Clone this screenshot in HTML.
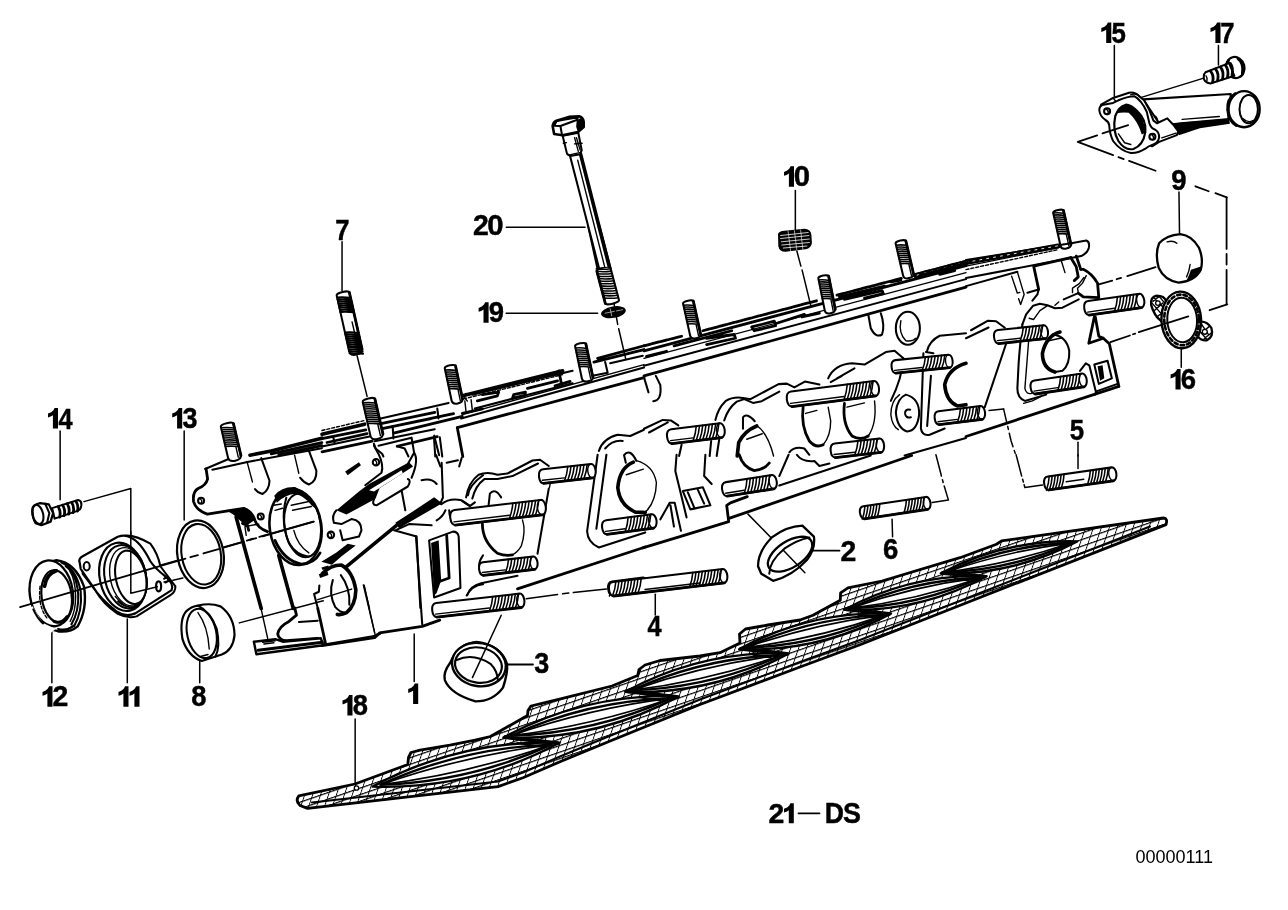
<!DOCTYPE html>
<html><head><meta charset="utf-8"><title>Cylinder head</title>
<style>
html,body{margin:0;padding:0;background:#fff}
svg{display:block;filter:grayscale(1)}
.t{font-family:"Liberation Sans",sans-serif;font-weight:bold;fill:#000;stroke:#000;stroke-width:0.45;opacity:0.999}
.tr{font-family:"Liberation Sans",sans-serif;fill:#000;opacity:0.999}
.f{fill:#000;stroke:none}
.w{fill:#fff;stroke:#000;stroke-width:2.05}
.wb{fill:#fff;stroke:#000;stroke-width:1.3}
.wf{fill:#fff;stroke:none}
.a{fill:none;stroke:#000;stroke-width:2.05}
.b{fill:none;stroke:#000;stroke-width:1.4}
.c{fill:none;stroke:#000;stroke-width:2.8}
.d{fill:none;stroke:#000;stroke-width:3.6}
.th{fill:none;stroke:#000;stroke-width:1.55}
.l{fill:none;stroke:#000;stroke-width:1.5}
.l2{fill:none;stroke:#000;stroke-width:1.8}
path,line,ellipse,circle,polyline,polygon,rect{vector-effect:non-scaling-stroke;stroke-linecap:round;stroke-linejoin:round}
</style></head><body>
<svg width="1288" height="910" viewBox="0 0 1288 910">
<rect x="0" y="0" width="1288" height="910" fill="#fff"/>
<path class="f" d="M58.0,408.0 L58.0,428.5 L52.9,428.5 L52.9,415.2 L50.6,416.6 L48.0,417.4 L48.0,413.6 L51.2,412.2 L53.4,410.2 L54.6,408.0Z"/><text transform="translate(58.62,428.50) scale(0.845,1)" font-size="29.93" class="t">4</text>
<path class="f" d="M182.2,408.0 L182.2,428.5 L177.1,428.5 L177.1,415.2 L174.8,416.6 L172.2,417.4 L172.2,413.6 L175.4,412.2 L177.6,410.2 L178.8,408.0Z"/><text transform="translate(182.53,428.15) scale(0.926,1)" font-size="29.08" class="t">3</text>
<text transform="translate(335.35,239.50) scale(0.857,1)" font-size="29.93" class="t">7</text>
<text transform="translate(473.01,235.45) scale(0.977,1)" font-size="29.08" class="t">2</text><text transform="translate(487.33,235.45) scale(1.010,1)" font-size="29.08" class="t">0</text>
<path class="f" d="M488.6,302.3 L488.6,322.8 L483.5,322.8 L483.5,309.5 L481.2,310.9 L478.6,311.7 L478.6,307.9 L481.8,306.5 L484.0,304.5 L485.2,302.3Z"/><text transform="translate(488.64,322.45) scale(0.946,1)" font-size="29.08" class="t">9</text>
<path class="f" d="M794.0,166.3 L794.0,186.8 L788.9,186.8 L788.9,173.5 L786.6,174.9 L784.0,175.7 L784.0,171.9 L787.2,170.5 L789.4,168.5 L790.6,166.3Z"/><text transform="translate(793.83,186.45) scale(1.010,1)" font-size="29.08" class="t">0</text>
<path class="f" d="M1111.3,22.5 L1111.3,43.0 L1106.2,43.0 L1106.2,29.7 L1103.9,31.1 L1101.3,31.9 L1101.3,28.1 L1104.5,26.7 L1106.7,24.7 L1107.9,22.5Z"/><text transform="translate(1111.52,42.65) scale(0.889,1)" font-size="29.08" class="t">5</text>
<path class="f" d="M1220.5,22.5 L1220.5,43.0 L1215.4,43.0 L1215.4,29.7 L1213.1,31.1 L1210.5,31.9 L1210.5,28.1 L1213.7,26.7 L1215.9,24.7 L1217.1,22.5Z"/><text transform="translate(1220.35,43.00) scale(0.857,1)" font-size="29.93" class="t">7</text>
<text transform="translate(1171.24,190.45) scale(0.946,1)" font-size="29.08" class="t">9</text>
<path class="f" d="M1180.6,369.0 L1180.6,389.5 L1175.5,389.5 L1175.5,376.2 L1173.2,377.6 L1170.6,378.4 L1170.6,374.6 L1173.8,373.2 L1176.0,371.2 L1177.2,369.0Z"/><text transform="translate(1180.64,389.15) scale(0.946,1)" font-size="29.08" class="t">6</text>
<text transform="translate(1069.72,440.15) scale(0.889,1)" font-size="29.08" class="t">5</text>
<path class="f" d="M52.5,686.3 L52.5,706.8 L47.4,706.8 L47.4,693.5 L45.1,694.9 L42.5,695.7 L42.5,691.9 L45.7,690.5 L47.9,688.5 L49.1,686.3Z"/><text transform="translate(52.51,706.45) scale(0.977,1)" font-size="29.08" class="t">2</text>
<path class="f" d="M128.5,686.3 L128.5,706.8 L123.4,706.8 L123.4,693.5 L121.1,694.9 L118.5,695.7 L118.5,691.9 L121.7,690.5 L123.9,688.5 L125.1,686.3Z"/><path class="f" d="M139.5,686.3 L139.5,706.8 L134.4,706.8 L134.4,693.5 L132.1,694.9 L129.5,695.7 L129.5,691.9 L132.7,690.5 L134.9,688.5 L136.1,686.3Z"/>
<text transform="translate(191.18,706.45) scale(0.940,1)" font-size="29.08" class="t">8</text>
<path class="f" d="M418.2,683.5 L418.2,704.0 L413.1,704.0 L413.1,690.7 L410.8,692.1 L408.2,692.9 L408.2,689.1 L411.4,687.7 L413.6,685.7 L414.8,683.5Z"/>
<path class="f" d="M352.5,695.0 L352.5,715.5 L347.4,715.5 L347.4,702.2 L345.1,703.6 L342.5,704.4 L342.5,700.6 L345.7,699.2 L347.9,697.2 L349.1,695.0Z"/><text transform="translate(352.68,715.15) scale(0.940,1)" font-size="29.08" class="t">8</text>
<text transform="translate(534.33,673.45) scale(0.926,1)" font-size="29.08" class="t">3</text>
<text transform="translate(840.51,561.15) scale(0.977,1)" font-size="29.08" class="t">2</text>
<text transform="translate(883.04,559.15) scale(0.946,1)" font-size="29.08" class="t">6</text>
<text transform="translate(647.62,635.50) scale(0.845,1)" font-size="29.93" class="t">4</text>
<text transform="translate(768.51,822.96) scale(1.002,1)" font-size="28.37" class="t">2</text><path class="f" d="M793.8,803.3 L793.8,823.3 L788.8,823.3 L788.8,810.3 L786.5,811.7 L784.0,812.5 L784.0,808.8 L787.1,807.4 L789.3,805.4 L790.4,803.3Z"/>
<path class="l2" d="M798.5,813.3 H819.5"/>
<text transform="translate(824.77,823.30) scale(0.910,1)" font-size="29.20" class="t">D</text><text transform="translate(842.89,822.95) scale(0.921,1)" font-size="29.20" class="t">S</text>
<text x="1135.5" y="863.4" font-size="18" class="tr" textLength="77.5" lengthAdjust="spacingAndGlyphs">00000111</text>
<defs><pattern id="gh" patternUnits="userSpaceOnUse" width="9.5" height="6.2" patternTransform="rotate(-19) skewX(-38)"><path d="M0,0.5 H9.5 M0.5,0 V6.2" stroke="#000" stroke-width="1.15" fill="none"/></pattern><clipPath id="gc"><path d="M298.8,795.8 L355.0,784.0 L407.8,764.5 L408.5,757.5 L411.0,752.5 L420.0,750.2 L450.0,745.2 L475.0,740.2 L490.4,736.5 L527.5,715.5 L528.0,710.5 L531.0,706.0 L541.0,703.7 L560.6,698.9 L612.0,686.0 L637.7,675.5 L639.0,669.5 L645.0,665.0 L660.0,660.5 L700.0,656.0 L720.0,652.7 L740.0,643.0 L739.5,634.0 L745.5,629.0 L768.0,625.0 L800.0,620.0 L813.0,615.3 L840.3,600.3 L840.6,592.8 L848.0,587.8 L882.0,581.0 L960.0,557.7 L996.5,544.2 L1001.6,540.9 L1163.5,518.0 Q1168,518 1166,524.6 L966.0,603.0 L860.0,644.8 L800.0,667.0 L700.0,704.5 L612.0,740.2 L560.0,761.7 L523.0,777.8 L498.0,786.6 L307.5,808.4 L300.0,805.5 Q295,801 298.8,795.8Z"/></clipPath></defs><path d="M298.8,795.8 L355.0,784.0 L407.8,764.5 L408.5,757.5 L411.0,752.5 L420.0,750.2 L450.0,745.2 L475.0,740.2 L490.4,736.5 L527.5,715.5 L528.0,710.5 L531.0,706.0 L541.0,703.7 L560.6,698.9 L612.0,686.0 L637.7,675.5 L639.0,669.5 L645.0,665.0 L660.0,660.5 L700.0,656.0 L720.0,652.7 L740.0,643.0 L739.5,634.0 L745.5,629.0 L768.0,625.0 L800.0,620.0 L813.0,615.3 L840.3,600.3 L840.6,592.8 L848.0,587.8 L882.0,581.0 L960.0,557.7 L996.5,544.2 L1001.6,540.9 L1163.5,518.0 Q1168,518 1166,524.6 L966.0,603.0 L860.0,644.8 L800.0,667.0 L700.0,704.5 L612.0,740.2 L560.0,761.7 L523.0,777.8 L498.0,786.6 L307.5,808.4 L300.0,805.5 Q295,801 298.8,795.8Z" fill="#fff"/><path d="M298.8,795.8 L355.0,784.0 L407.8,764.5 L408.5,757.5 L411.0,752.5 L420.0,750.2 L450.0,745.2 L475.0,740.2 L490.4,736.5 L527.5,715.5 L528.0,710.5 L531.0,706.0 L541.0,703.7 L560.6,698.9 L612.0,686.0 L637.7,675.5 L639.0,669.5 L645.0,665.0 L660.0,660.5 L700.0,656.0 L720.0,652.7 L740.0,643.0 L739.5,634.0 L745.5,629.0 L768.0,625.0 L800.0,620.0 L813.0,615.3 L840.3,600.3 L840.6,592.8 L848.0,587.8 L882.0,581.0 L960.0,557.7 L996.5,544.2 L1001.6,540.9 L1163.5,518.0 Q1168,518 1166,524.6 L966.0,603.0 L860.0,644.8 L800.0,667.0 L700.0,704.5 L612.0,740.2 L560.0,761.7 L523.0,777.8 L498.0,786.6 L307.5,808.4 L300.0,805.5 Q295,801 298.8,795.8Z" fill="url(#gh)"/><path class="c" d="M298.8,795.8 L355.0,784.0 L407.8,764.5 L408.5,757.5 L411.0,752.5 L420.0,750.2 L450.0,745.2 L475.0,740.2 L490.4,736.5 L527.5,715.5 L528.0,710.5 L531.0,706.0 L541.0,703.7 L560.6,698.9 L612.0,686.0 L637.7,675.5 L639.0,669.5 L645.0,665.0 L660.0,660.5 L700.0,656.0 L720.0,652.7 L740.0,643.0 L739.5,634.0 L745.5,629.0 L768.0,625.0 L800.0,620.0 L813.0,615.3 L840.3,600.3 L840.6,592.8 L848.0,587.8 L882.0,581.0 L960.0,557.7 L996.5,544.2 L1001.6,540.9 L1163.5,518.0 Q1168,518 1166,524.6 L966.0,603.0 L860.0,644.8 L800.0,667.0 L700.0,704.5 L612.0,740.2 L560.0,761.7 L523.0,777.8 L498.0,786.6 L307.5,808.4 L300.0,805.5 Q295,801 298.8,795.8Z"/><path class="a" d="M1150.0,526.5 L966.0,598.5 L860.0,640.0 L800.0,662.0 L700.0,699.5 L612.0,735.0 L560.0,756.5 L523.0,772.5 L498.0,781.5 L312.0,802.5"/><g clip-path="url(#gc)"><path d="M372.5,786.6 Q460.1,739.4 559.5,742.8 Q471.9,790.0 372.5,786.6 Z" fill="#fff" stroke="#000" stroke-width="2.4" stroke-linejoin="round"/><path d="M380.4,784.8 Q462.0,747.5 551.6,744.6 Q470.0,781.9 380.4,784.8 Z" class="c" style="stroke-width:2.4"/><path d="M380.4,784.8 Q463.9,755.6 551.6,744.6 Q468.1,773.8 380.4,784.8 Z" class="a" style="stroke-width:1.7"/><path d="M503.4,737.6 Q585.4,693.0 678.6,696.4 Q596.6,741.0 503.4,737.6 Z" fill="#fff" stroke="#000" stroke-width="2.4" stroke-linejoin="round"/><path d="M510.7,735.8 Q587.2,700.7 671.3,698.2 Q594.8,733.3 510.7,735.8 Z" class="c" style="stroke-width:2.4"/><path d="M510.7,735.8 Q589.0,708.4 671.3,698.2 Q593.0,725.6 510.7,735.8 Z" class="a" style="stroke-width:1.7"/><path d="M625.2,691.8 Q701.7,650.2 788.8,653.4 Q712.3,695.0 625.2,691.8 Z" fill="#fff" stroke="#000" stroke-width="2.4" stroke-linejoin="round"/><path d="M632.1,690.2 Q703.4,657.4 781.9,655.0 Q710.6,687.8 632.1,690.2 Z" class="c" style="stroke-width:2.4"/><path d="M632.1,690.2 Q705.1,664.5 781.9,655.0 Q708.9,680.7 632.1,690.2 Z" class="a" style="stroke-width:1.7"/><path d="M739.1,649.2 Q810.1,610.6 890.9,613.6 Q819.9,652.2 739.1,649.2 Z" fill="#fff" stroke="#000" stroke-width="2.4" stroke-linejoin="round"/><path d="M745.4,647.7 Q811.7,617.2 884.6,615.1 Q818.3,645.6 745.4,647.7 Z" class="c" style="stroke-width:2.4"/><path d="M745.4,647.7 Q813.2,623.9 884.6,615.1 Q816.8,638.9 745.4,647.7 Z" class="a" style="stroke-width:1.7"/><path d="M844.4,609.7 Q910.9,573.5 986.6,576.3 Q920.1,612.5 844.4,609.7 Z" fill="#fff" stroke="#000" stroke-width="2.4" stroke-linejoin="round"/><path d="M850.4,608.3 Q912.4,579.8 980.6,577.7 Q918.6,606.2 850.4,608.3 Z" class="c" style="stroke-width:2.4"/><path d="M850.4,608.3 Q913.9,586.0 980.6,577.7 Q917.1,600.0 850.4,608.3 Z" class="a" style="stroke-width:1.7"/><path d="M940.8,573.4 Q1004.8,539.5 1077.2,541.4 Q1013.2,575.3 940.8,573.4 Z" fill="#fff" stroke="#000" stroke-width="2.4" stroke-linejoin="round"/><path d="M946.6,572.0 Q1006.1,545.2 1071.4,542.8 Q1011.9,569.6 946.6,572.0 Z" class="c" style="stroke-width:2.4"/><path d="M946.6,572.0 Q1007.5,551.0 1071.4,542.8 Q1010.5,563.8 946.6,572.0 Z" class="a" style="stroke-width:1.7"/><path class="c" style="stroke-width:4" d="M505.4,737.1 L557.5,743.3"/><path class="a" d="M517.4,743.1 L541.5,746.8"/><path class="c" style="stroke-width:4" d="M627.2,691.3 L676.6,696.9"/><path class="a" d="M639.2,697.3 L660.6,700.4"/><path class="c" style="stroke-width:4" d="M741.1,648.7 L786.8,653.9"/><path class="a" d="M753.1,654.7 L770.8,657.4"/><path class="c" style="stroke-width:4" d="M846.4,609.2 L888.9,614.1"/><path class="a" d="M858.4,615.2 L872.9,617.6"/><path class="c" style="stroke-width:4" d="M942.8,572.9 L984.6,576.8"/><path class="a" d="M954.8,578.9 L968.6,580.3"/></g><circle cx="356.5" cy="788" r="2.2" class="wb"/>
<!-- parts 15,17 : zoom region [1060,10,1288,171] f=5.649 -->
<g transform="translate(1060,10) scale(0.17702)">
<!-- leaders -->
<path class="l" d="M307,200 V490 M895,200 V310"/>
<!-- bolt axis line -->
<path class="l" d="M455,495 L812,385"/>
<!-- tube -->
<path class="w" d="M470,505 L965,475 L950,620 L640,645 L560,640 Z"/>
<path class="f" d="M636,640 L700,632 L955,610 L960,642 L790,668 L672,708 L650,680 Z"/>
<path class="b" d="M690,618 L900,602"/>
<!-- tube end -->
<ellipse class="w" cx="1040" cy="560" rx="88" ry="102" style="stroke-width:2.4"/>
<path class="a" d="M990,470 Q940,500 945,565 Q950,630 995,655"/>
<ellipse class="w" cx="1066" cy="560" rx="52" ry="80" style="stroke-width:2"/>
<path class="b" d="M1090,625 Q1060,640 1035,615"/>
<!-- flange thickness (back outline) -->
<path class="w" d="M232,535 L300,497 L390,467 Q425,462 445,485 L475,510 L505,565 L528,625 L548,640 L606,612 L640,648 L668,685 L660,707 L560,745 L520,770 L400,690 Z"/>
<path class="b" d="M575,722 L655,696 M545,640 Q560,625 540,600 M440,480 Q420,470 400,478 M300,497 L318,520"/>
<!-- flange front face -->
<path class="w" style="stroke-width:2" d="M222,565 Q222,540 245,535 L300,525 L330,510 Q380,488 420,487 Q460,510 490,575 L505,640 Q515,668 535,675 Q562,690 560,722 Q552,755 520,762 Q500,768 480,785 Q440,810 400,808 Q340,795 300,740 Q280,700 278,650 Q275,630 255,620 Q225,600 222,565 Z"/>
<!-- inner hole -->
<path class="w" style="stroke-width:2.2" d="M372,535 Q330,545 312,600 Q295,680 330,740 Q365,795 415,785 Q470,765 482,690 Q488,620 440,575 Q400,535 372,535 Z"/>
<path class="f" d="M316,585 Q340,540 374,533 Q425,545 468,618 L485,692 L462,704 Q440,625 388,580 Q350,575 316,585Z"/>
<path class="b" d="M330,700 L365,750 L400,760"/>
<circle class="w" cx="266" cy="572" r="17"/><path class="b" d="M262,560 Q280,575 268,590"/>
<circle class="w" cx="522" cy="716" r="17"/><path class="b" d="M518,704 Q536,719 524,734"/>
<!-- dash-dot -->
<path class="l2" d="M385,650 L240,697 M210,708 L100,745 L300,820 M330,831 L360,842 M390,852 L540,908"/>
<!-- bolt 17 -->
<ellipse class="w" cx="990" cy="325" rx="52" ry="60" style="stroke-width:2.2" transform="rotate(-15 990 325)"/>
<path class="c" d="M952,285 Q930,320 950,375 M1005,275 Q1040,300 1030,360"/>
<path class="w" d="M822,352 L955,300 L985,372 L850,415 Q812,410 812,380 Q812,360 822,352Z"/>
<path class="c" d="M850,345 Q872,370 862,408 M878,333 Q900,360 890,400 M906,322 Q928,348 918,390 M934,311 Q956,338 946,380 M962,302 Q980,325 972,368"/>
<path class="b" d="M825,372 Q835,385 830,400"/>
</g>

<!-- part 9 : zoom region [1060,130,1288,291] f=5.649 -->
<g transform="translate(1060,130) scale(0.17702)">
<path class="l2" d="M765,318 L840,346 M878,357 L942,381"/>
<path class="l" d="M672,350 L675,580"/>
<path class="l2" d="M941,381 V672 M941,700 V760 M941,790 V985"/>
<path class="l2" d="M945,985 L845,1018"/>
<path class="w" style="stroke-width:2.3" d="M560,640 Q600,595 680,588 Q745,595 785,665 Q812,730 795,790 Q760,855 670,862 Q590,850 558,780 Q535,700 560,640Z"/>
<path class="f" d="M740,790 L800,770 L795,795 Q775,830 715,850 Q730,820 740,790Z"/>
<path class="b" d="M735,760 Q730,800 715,830 M605,632 Q640,622 660,640"/>
<path class="l2" d="M540,775 L380,825 M345,836 L320,843 M295,851 L220,872"/>
</g>
<!-- part 16 : zoom region [1060,250,1288,411] f=5.649 -->
<g transform="translate(1060,250) scale(0.17702)">
<!-- ears -->
<path class="w" style="stroke-width:2.3" d="M600,290 Q590,258 545,258 Q510,265 515,310 Q530,370 575,405 L610,380Z"/>
<path class="w" style="stroke-width:2.3" d="M790,405 Q830,400 855,440 Q870,490 830,510 Q800,515 780,490Z"/>
<path class="b" d="M530,270 L590,330 M520,300 L585,375 M560,262 L600,310 M535,340 L580,300 M545,380 L595,340 M525,290 L560,262 M800,420 L840,480 M790,460 L830,505 M800,470 L845,430 M815,500 L860,465"/>
<!-- ring -->
<ellipse cx="685" cy="395" rx="112" ry="160" transform="rotate(-3 685 395)" class="w" style="stroke-width:2.4"/>
<ellipse cx="690" cy="395" rx="84" ry="126" transform="rotate(-3 690 395)" class="w" style="stroke-width:2"/>
<ellipse cx="687" cy="395" rx="98" ry="143" transform="rotate(-3 687 395)" class="a" style="stroke-width:2.6;stroke-dasharray:3.5 3"/>
<circle class="wb" cx="818" cy="462" r="14"/>
<circle class="wb" cx="553" cy="300" r="13"/>
<path class="l" d="M685,560 V662"/>
<path class="l2" d="M725,375 L445,464 M425,472 L412,476 M395,483 L285,520"/>
</g>

<!-- head right end : zoom region [966,228,1288,456] f=3.991 -->
<g transform="translate(966,228) scale(0.25058)">
<path class="w" d="M377.3,72.2 L347.9,-60.9 A6.7,21.0 -102.4 0 1 389.0,-70.0 L418.3,63.1 Q421.5,77.5 401.0,82.0 Q380.5,86.5 377.3,72.2 Z"/><path class="c" d="M419.0,66.0 L389.0,-70.0"/><path class="th" d="M366.5,23.4 Q387.5,21.0 409.8,24.5 M364.7,15.1 Q385.7,12.7 408.0,16.2 M362.9,6.8 Q383.9,4.4 406.2,7.9 M361.0,-1.5 Q382.0,-3.9 404.3,-0.4 M359.2,-9.8 Q380.2,-12.2 402.5,-8.7 M357.4,-18.1 Q378.4,-20.5 400.7,-17.0 M355.6,-26.4 Q376.5,-28.8 398.8,-25.3 M353.7,-34.8 Q374.7,-37.1 397.0,-33.6 M351.9,-43.1 Q372.9,-45.4 395.2,-41.9 M350.1,-51.4 Q371.0,-53.7 393.3,-50.2 M348.2,-59.7 Q369.2,-62.0 391.5,-58.5 "/><path class="b" d="M410.4,70.9 L400.8,27.6"/>
<!-- top rail -->
<path class="a" d="M0,128 L425,60 L480,50 Q495,55 490,80 Q485,100 460,112 L0,200"/>
<path class="a" style="stroke-width:5" d="M0,138 L368,72"/><path d="M0,137 L368,71" stroke="#fff" stroke-width="0.9" stroke-dasharray="2 5" fill="none"/>
<path class="b" style="stroke-dasharray:3 2" d="M0,166 L368,86"/>
<path class="b" d="M0,152 L368,78"/>
<path class="a" d="M0,232 L205,175"/>
<!-- U notch -->
<path class="b" d="M182,192 L205,260 L215,257 M205,175 L232,265 L218,305 L210,282"/>
<!-- bracket -->
<path class="c" d="M418,118 L270,152 L290,245"/>
<path class="a" d="M290,245 L245,258 M290,245 L285,265 L265,290"/>
<path class="b" d="M380,130 L395,178"/>
<path class="c" d="M418,118 L440,155 L448,195 L432,210 M440,112 L458,165"/>
<path class="c" d="M458,165 L468,165 Q500,180 525,220 L530,278 L468,275 L448,260"/>
<path class="b" d="M480,190 L465,220 L445,240 L448,258 M470,198 L452,222 L425,240 L425,258"/>
<path class="a" d="M448,260 L390,285 M450,285 L385,318 L355,320 L325,308 L295,302 L268,310 L240,345 L225,385"/>
<path class="b" d="M370,295 L355,308 M325,310 L295,330 L270,365 L252,360"/>
<path class="w" d="M487.5,291.5 L692.5,262.5 A15.7,28.0 -8.1 0 1 700.4,317.9 L495.3,347.0 Q475.9,349.7 472.0,322.0 Q468.1,294.3 487.5,291.5 Z"/><path class="b" d="M692.5,262.5 A15.7,28.0 -8.1 0 0 700.4,317.9"/><path class="c" d="M491.5,347.5 L700.4,317.9"/><path class="th" d="M604.2,275.0 Q602.9,303.5 592.7,333.2 M617.1,273.2 Q615.8,301.6 605.5,331.4 M630.0,271.3 Q628.7,299.8 618.4,329.5 M642.8,269.5 Q641.6,298.0 631.3,327.7 M655.7,267.7 Q654.4,296.2 644.1,325.9 M668.6,265.9 Q667.3,294.3 657.0,324.1 M681.4,264.0 Q680.2,292.5 669.9,322.2 "/><path class="b" d="M485.8,335.6 L592.2,320.5"/>
<!-- triangle notch + right edge -->
<path class="c" d="M512,355 L490,460 L548,440 M516,355 L530,432 L548,440 L572,462 L610,632"/>
<!-- bottom edges -->
<path class="c" d="M610,632 L0,832"/>
<path class="a" d="M605,622 L520,652 L515,665"/>
<!-- flange plate around port -->
<path class="a" d="M20,408 L88,370 L120,372 L155,398 M0,440 L90,397"/>
<path class="a" d="M225,385 Q215,470 210,540 L205,640 Q205,680 235,690 L320,665"/>
<path class="b" d="M250,450 L235,640 Q240,665 262,660"/>
<!-- port hole -->
<path class="d" d="M375,415 Q320,430 305,500 Q305,560 355,575"/>
<path class="a" d="M345,425 Q400,430 412,490 Q415,545 385,570 L355,575"/>
<path class="b" d="M320,452 L385,438"/>
<path class="w" d="M127.9,407.2 L310.1,387.8 A15.1,27.0 -6.1 0 1 315.8,441.4 L133.7,460.8 Q114.9,462.8 112.0,436.0 Q109.1,409.2 127.9,407.2 Z"/><path class="b" d="M310.1,387.8 A15.1,27.0 -6.1 0 0 315.8,441.4"/><path class="c" d="M129.9,461.2 L315.8,441.4"/><path class="th" d="M228.7,396.4 Q226.7,423.8 215.6,452.1 M241.6,395.0 Q239.6,422.4 228.5,450.7 M254.5,393.7 Q252.5,421.0 241.5,449.4 M267.5,392.3 Q265.4,419.7 254.4,448.0 M280.4,390.9 Q278.4,418.3 267.3,446.6 M293.3,389.5 Q291.3,416.9 280.2,445.2 M306.2,388.2 Q304.2,415.5 293.2,443.9 "/><path class="b" d="M124.8,449.6 L215.3,439.9"/>
<path class="a" d="M160,462 L75,715"/>
<path class="w" d="M272.8,608.5 L463.1,580.5 A15.1,27.0 -8.4 0 1 471.0,633.9 L280.6,662.0 Q261.9,664.7 258.0,638.0 Q254.1,611.3 272.8,608.5 Z"/><path class="b" d="M463.1,580.5 A15.1,27.0 -8.4 0 0 471.0,633.9"/><path class="c" d="M276.9,662.5 L471.0,633.9"/><path class="th" d="M377.4,593.1 Q376.5,620.5 366.5,649.3 M390.2,591.2 Q389.3,618.7 379.4,647.4 M403.1,589.3 Q402.2,616.8 392.3,645.5 M415.9,587.4 Q415.0,614.9 405.1,643.6 M428.8,585.5 Q427.9,613.0 418.0,641.7 M441.7,583.6 Q440.8,611.1 430.8,639.8 M454.5,581.8 Q453.6,609.2 443.7,637.9 "/><path class="b" d="M271.4,651.0 L365.7,637.1"/>
<path class="b" d="M230,700 L265,690 L300,672"/>
<!-- small slot -->
<path class="a" d="M455,570 L478,540 L492,548 L520,660"/>
<path class="a" d="M512,545 L565,530 L582,600 L530,622Z"/>
<path class="f" d="M525,552 L545,548 L552,600 L535,610Z"/>
<!-- stud bottom-left end with line to 5 -->
<path class="l" d="M92,728 L150,722"/>
<path class="l" style="stroke-dasharray:14 4 3 4" d="M150,722 L180,850 L200,910"/>
<path class="l" d="M447,855 V910"/>
</g>

<!-- head : zoom region [644,228,966,456] f=3.991 -->
<g transform="translate(644,228) scale(0.25058)">
<!-- plug 10 -->
<path class="l" d="M604,-150 V8"/>
<path class="f" d="M535,32 Q530,14 560,11 L640,3 Q666,4 668,28 L670,60 Q668,80 645,85 L565,95 Q540,96 536,72Z"/>
<path d="M545,30 L655,18 M545,42 L658,30 M548,55 L660,44 M550,68 L660,58 M556,80 L650,72" stroke="#fff" stroke-width="0.8" fill="none"/>
<path d="M575,12 L585,92 M600,10 L610,90 M625,8 L634,86" stroke="#fff" stroke-width="0.6" fill="none"/>
<path class="l" d="M610,92 L626,152 M631,168 L666,312"/>
<!-- rail lines -->
<path class="c" style="stroke-dasharray:7 1.5" d="M0,470 L150,432 M235,410 L690,290 M770,268 L1030,200 M1080,186 L1285,132"/>
<path class="c" d="M0,490 L1285,150"/>
<path class="b" d="M0,520 L1285,178"/>
<path class="a" d="M0,550 L1285,204"/>
<path class="c" d="M0,590 L1285,236"/>
<path class="a" style="stroke-width:5" d="M1085,190 L1285,138"/>
<path d="M1090,188 L1285,137" stroke="#fff" stroke-width="0.9" stroke-dasharray="2 5" fill="none"/>
<!-- top face details (dark blobs) -->
<path class="c" d="M10,512 L90,492 M120,470 L350,410 M250,440 L360,425 L365,440 L250,465 M430,395 L520,372 L525,390 L440,410Z M530,380 L640,345 M630,355 L700,340 M780,275 L960,232 M800,285 L950,250 L955,262 L880,280 M985,215 L1025,208 M1100,190 L1285,140 M1180,185 L1240,170"/>
<!-- studs on top -->
<path class="w" d="M184.3,430.2 L155.9,301.1 A6.7,21.0 -102.4 0 1 197.0,292.1 L225.4,421.1 Q228.5,435.5 208.0,440.0 Q187.5,444.5 184.3,430.2 Z"/><path class="c" d="M226.0,424.0 L197.0,292.1"/><path class="th" d="M173.9,382.7 Q194.9,380.4 217.2,384.0 M172.1,374.4 Q193.1,372.1 215.3,375.7 M170.2,366.1 Q191.2,363.8 213.5,367.4 M168.4,357.8 Q189.4,355.5 211.7,359.1 M166.6,349.5 Q187.6,347.2 209.9,350.8 M164.8,341.2 Q185.8,338.9 208.0,342.5 M162.9,332.9 Q183.9,330.6 206.2,334.2 M161.1,324.6 Q182.1,322.3 204.4,325.9 M159.3,316.3 Q180.3,314.0 202.6,317.6 M157.5,308.0 Q178.5,305.7 200.7,309.3 "/><path class="b" d="M217.4,428.9 L208.2,387.0"/>
<path class="w" d="M721.5,329.7 L695.7,200.7 A6.7,21.0 -101.3 0 1 736.9,192.5 L762.7,321.5 Q765.6,335.9 745.0,340.0 Q724.4,344.1 721.5,329.7 Z"/><path class="c" d="M763.3,324.3 L736.9,192.5"/><path class="th" d="M712.0,282.3 Q733.1,280.4 755.3,284.4 M710.4,274.0 Q731.4,272.1 753.6,276.0 M708.7,265.6 Q729.7,263.7 752.0,267.7 M707.0,257.3 Q728.1,255.4 750.3,259.4 M705.4,249.0 Q726.4,247.1 748.6,251.0 M703.7,240.6 Q724.7,238.7 747.0,242.7 M702.0,232.3 Q723.1,230.4 745.3,234.4 M700.4,224.0 Q721.4,222.1 743.6,226.0 M698.7,215.6 Q719.7,213.7 742.0,217.7 M697.0,207.3 Q718.1,205.4 740.3,209.3 "/><path class="b" d="M754.6,329.1 L746.2,287.2"/>
<path class="w" d="M1034.2,190.5 L1004.1,61.3 A6.7,21.0 -103.1 0 1 1045.0,51.8 L1075.1,180.9 Q1078.5,195.2 1058.0,200.0 Q1037.5,204.8 1034.2,190.5 Z"/><path class="c" d="M1075.8,183.8 L1045.0,51.8"/><path class="th" d="M1023.1,143.0 Q1044.1,140.5 1066.4,143.7 M1021.2,134.7 Q1042.2,132.2 1064.5,135.4 M1019.3,126.5 Q1040.2,123.9 1062.6,127.1 M1017.3,118.2 Q1038.3,115.6 1060.6,118.9 M1015.4,109.9 Q1036.4,107.4 1058.7,110.6 M1013.5,101.6 Q1034.5,99.1 1056.8,102.3 M1011.6,93.4 Q1032.5,90.8 1054.8,94.0 M1009.6,85.1 Q1030.6,82.5 1052.9,85.8 M1007.7,76.8 Q1028.7,74.2 1051.0,77.5 M1005.8,68.5 Q1026.7,66.0 1049.0,69.2 "/><path class="b" d="M1067.2,188.8 L1057.5,146.8"/>
<!-- U notches -->
<path class="a" d="M0,596 L18,656 M47,590 L65,626 Q72,690 37,691"/>
<path class="a" d="M895,345 L905,400 Q925,440 950,425 Q962,390 945,340"/>
<!-- circle hole -->
<ellipse class="a" cx="1053" cy="400" rx="48" ry="66"/>
<path class="b" d="M1025,370 Q1015,420 1045,450 Q1070,455 1085,440"/>
<!-- left wavy flange -->
<path class="a" d="M0,801 L75,766 L107,768 L137,788 M20,816 L95,776"/>
<path class="a" d="M150,865 L140,910 M268,850 L262,910 M300,845 L290,910"/>
<!-- middle flange wavy outline -->
<path class="a" d="M285,766 Q295,720 325,691 Q355,672 395,678 L425,683 L537,623 L570,621 L600,636 L642,613 L700,625"/>
<path class="a" d="M320,768 Q335,720 370,693 L400,683 L435,698 L470,691 L540,653"/>
<!-- left port -->
<path class="d" d="M450,790 Q400,810 378,856 L372,910"/>
<path class="b" d="M450,788 Q495,820 517,910 M410,843 L472,821"/>
<path class="a" d="M395,801 L395,756 Q410,735 442,771"/>
<!-- second flange (right) -->
<path class="a" d="M735,600 Q760,545 830,540 L880,545 L965,495 L1000,490 L1035,520 M745,615 L790,590 M770,600 L840,560"/>
<path class="a" d="M1035,520 Q1030,600 985,690 M1285,420 L1180,430 Q1140,450 1130,490 M1125,495 L1155,500"/>
<!-- ports middle -->
<path class="c" d="M635,715 Q625,790 660,850 Q685,880 715,865"/>
<path class="b" d="M645,740 L690,728 M715,865 Q745,830 745,770 L735,715"/>
<path class="c" d="M800,700 Q790,780 830,830 Q865,850 895,830"/>
<path class="b" d="M895,830 Q930,780 920,690 M810,715 L880,698"/>
<!-- boss with c -->
<path class="a" d="M1045,665 Q1100,680 1098,745 Q1090,810 1050,812 Q1010,800 1005,735 Q1010,680 1045,665Z"/>
<path class="b" d="M1020,665 Q985,690 985,745 Q990,790 1015,805"/>
<path class="a" d="M1062,725 Q1040,722 1042,742 Q1045,760 1065,755"/>
<!-- right flange plate -->
<path class="a" d="M1115,500 L1105,800 Q1110,830 1140,825 L1200,800 M1145,590 L1130,790"/>
<path class="d" d="M1285,540 Q1215,560 1200,625 Q1205,690 1250,710 L1285,705"/>
<path class="a" d="M580,895 Q600,870 640,880 L660,905 M1040,908 L1285,838"/>
<path class="w" d="M108.6,802.8 L302.4,779.2 A16.2,29.0 -6.9 0 1 309.4,836.8 L115.7,860.3 Q95.5,862.8 92.0,834.0 Q88.5,805.2 108.6,802.8 Z"/><path class="b" d="M302.4,779.2 A16.2,29.0 -6.9 0 0 309.4,836.8"/><path class="c" d="M111.6,860.8 L309.4,836.8"/><path class="th" d="M208.5,790.6 Q206.5,820.1 195.4,850.6 M221.4,789.0 Q219.4,818.5 208.3,849.1 M234.3,787.5 Q232.3,816.9 221.2,847.5 M247.2,785.9 Q245.2,815.4 234.1,845.9 M260.1,784.3 Q258.1,813.8 247.0,844.3 M273.0,782.7 Q271.0,812.2 259.9,842.8 M286.0,781.2 Q283.9,810.6 272.8,841.2 M298.9,779.6 Q296.8,809.1 285.7,839.6 "/><path class="b" d="M106.0,848.4 L195.4,837.5"/>
<path class="w" d="M587.0,652.6 L917.5,610.4 A16.8,30.0 -7.3 0 1 925.1,669.9 L594.6,712.1 Q573.8,714.8 570.0,685.0 Q566.2,655.2 587.0,652.6 Z"/><path class="b" d="M917.5,610.4 A16.8,30.0 -7.3 0 0 925.1,669.9"/><path class="c" d="M590.5,712.6 L925.1,669.9"/><path class="th" d="M811.2,623.9 Q809.1,654.5 798.0,686.1 M824.1,622.3 Q822.0,652.8 810.9,684.5 M837.0,620.7 Q834.9,651.2 823.8,682.8 M849.9,619.0 Q847.8,649.5 836.7,681.2 M862.8,617.4 Q860.7,647.9 849.6,679.5 M875.7,615.7 Q873.6,646.2 862.5,677.9 M888.6,614.1 Q886.5,644.6 875.4,676.2 M901.5,612.4 Q899.4,642.9 888.3,674.6 M914.4,610.8 Q912.3,641.3 901.2,672.9 "/><path class="b" d="M584.6,699.8 L798.3,672.5"/>
<path class="w" d="M1003.5,527.3 L1214.9,505.6 A14.6,26.0 -5.9 0 1 1220.2,557.3 L1008.8,579.0 Q990.7,580.9 988.0,555.0 Q985.3,529.1 1003.5,527.3 Z"/><path class="b" d="M1214.9,505.6 A14.6,26.0 -5.9 0 0 1220.2,557.3"/><path class="c" d="M1005.1,579.4 L1220.2,557.3"/><path class="th" d="M1122.9,515.0 Q1121.0,541.4 1110.1,568.6 M1135.8,513.7 Q1133.9,540.0 1123.0,567.3 M1148.7,512.4 Q1146.9,538.7 1135.9,566.0 M1161.7,511.1 Q1159.8,537.4 1148.9,564.7 M1174.6,509.7 Q1172.7,536.1 1161.8,563.3 M1187.5,508.4 Q1185.7,534.7 1174.7,562.0 M1200.5,507.1 Q1198.6,533.4 1187.7,560.7 "/><path class="b" d="M1000.3,568.1 L1109.5,556.9"/>
<path class="w" d="M1175.4,730.9 L1342.7,710.1 A15.1,27.0 -7.1 0 1 1349.3,763.7 L1182.1,784.5 Q1163.3,786.8 1160.0,760.0 Q1156.7,733.2 1175.4,730.9 Z"/><path class="b" d="M1342.7,710.1 A15.1,27.0 -7.1 0 0 1349.3,763.7"/><path class="c" d="M1178.3,784.9 L1349.3,763.7"/><path class="th" d="M1262.9,720.0 Q1261.4,747.4 1250.9,775.9 M1275.8,718.4 Q1274.3,745.8 1263.8,774.3 M1288.7,716.8 Q1287.2,744.2 1276.7,772.7 M1301.6,715.2 Q1300.1,742.6 1289.6,771.1 M1314.5,713.6 Q1313.0,741.0 1302.5,769.5 M1327.4,712.0 Q1325.9,739.4 1315.4,767.9 M1340.3,710.4 Q1338.8,737.8 1328.3,766.3 "/><path class="b" d="M1173.1,773.3 L1250.3,763.7"/>
<path class="w" d="M761.3,860.0 L939.3,839.9 A15.7,28.0 -6.4 0 1 945.6,895.6 L767.6,915.6 Q748.1,917.8 745.0,890.0 Q741.9,862.2 761.3,860.0 Z"/><path class="b" d="M939.3,839.9 A15.7,28.0 -6.4 0 0 945.6,895.6"/><path class="c" d="M763.7,916.1 L945.6,895.6"/><path class="th" d="M853.9,849.6 Q851.8,878.0 840.7,907.4 M866.8,848.1 Q864.7,876.5 853.6,905.9 M879.7,846.6 Q877.7,875.1 866.5,904.5 M892.7,845.2 Q890.6,873.6 879.5,903.0 M905.6,843.7 Q903.5,872.1 892.4,901.6 M918.5,842.3 Q916.4,870.7 905.3,900.1 M931.4,840.8 Q929.3,869.2 918.2,898.7 "/><path class="b" d="M758.4,904.0 L840.6,894.7"/>
</g>

<!-- zoom region [322,228,644,456] f=3.991 -->
<g transform="translate(322,228) scale(0.25058)">
<path class="l" d="M80,55 V250"/>
<path class="l" d="M140,510 L180,672"/>
<path class="l" d="M735,340 H1100"/>
<!-- bolt 20 lower shaft + thread -->
<path class="w" d="M1062,-10 L1100,165 L1150,160 L1105,-10Z" style="stroke:none"/>
<path class="a" d="M1062,-10 L1100,165"/><path class="c" d="M1105,-10 L1150,160"/><path class="b" d="M1085,-10 L1125,160"/>
<path class="w" d="M1151.2,159.0 L1185.1,287.3 A7.8,28.0 75.2 0 1 1130.9,301.6 L1097.1,173.3 Q1094.9,165.1 1122.0,158.0 Q1149.1,150.9 1151.2,159.0 Z"/><path class="c" d="M1096.6,171.6 L1130.9,301.6"/><path class="th" d="M1152.1,162.5 Q1124.2,166.2 1094.4,163.2 M1154.7,172.1 Q1126.7,175.9 1097.0,172.9 M1157.2,181.8 Q1129.3,185.6 1099.5,182.5 M1159.8,191.5 Q1131.8,195.2 1102.1,192.2 M1162.3,201.1 Q1134.4,204.9 1104.6,201.9 M1164.9,210.8 Q1136.9,214.6 1107.2,211.6 M1167.4,220.5 Q1139.5,224.2 1109.7,221.2 M1170.0,230.1 Q1142.0,233.9 1112.3,230.9 M1172.5,239.8 Q1144.6,243.6 1114.8,240.6 M1175.1,249.5 Q1147.1,253.2 1117.4,250.2 M1177.7,259.1 Q1149.7,262.9 1119.9,259.9 M1180.2,268.8 Q1152.2,272.6 1122.5,269.6 M1182.8,278.5 Q1154.8,282.2 1125.0,279.2 "/>
<!-- washer 19 -->
<ellipse class="f" cx="1163" cy="336" rx="50" ry="23" transform="rotate(-10 1163 336)"/>
<path d="M1130,340 L1200,326 M1150,322 L1156,350" stroke="#fff" stroke-width="0.6" fill="none"/>
<path class="l" d="M1165,300 L1180,385 M1184,402 L1212,522"/>
<!-- top face far edge -->
<path class="d" d="M0,823 L170,783"/>
<path class="b" d="M0,808 L170,768" style="stroke-dasharray:3 2"/>
<path class="c" d="M0,841 L175,806 M20,856 L180,821"/>
<path class="a" d="M0,872 L190,832 M45,835 L50,858"/>
<path class="c" d="M0,893 L200,851"/>
<path class="a" d="M230,761 L505,698"/>
<path class="c" d="M235,781 L450,736 M240,801 L435,761 M280,793 L525,741 M290,818 L560,752"/>
<path class="a" d="M210,851 L450,803 M282,790 L285,840 M460,720 L465,760"/>
<path class="d" d="M565,668 L960,570"/>
<path class="b" d="M565,682 L960,585" style="stroke-dasharray:3 2"/>
<path class="c" d="M1085,535 L1285,485 M1100,520 L1285,470"/>
<!-- top-face inner details -->
<path class="c" d="M560,740 L640,722 M620,690 L700,670 L705,655 L640,665 M760,680 L810,668 L812,655 L765,665Z M820,640 L940,610 M930,630 L990,612 M945,570 L955,620"/>
<path class="a" d="M600,665 L1000,570 M610,720 L1000,620 M1070,545 L1080,590 L1140,578 L1130,535 M1150,540 L1280,510"/>
<path class="b" d="M570,690 L575,735 M595,685 L600,728 M580,690 Q560,670 575,660"/>
<!-- near edge of top face + rail -->
<path class="a" d="M555,760 L1285,557"/>
<path class="c" d="M540,797 L1285,597"/>
<path class="b" d="M560,745 L1285,545" />
<path class="c" d="M540,797 L562,912"/>
<path class="c" d="M300,871 L460,833"/>
<!-- details under top left -->
<path class="a" d="M207,861 L215,881 L240,901 L245,912 M300,871 L330,880 L345,912 M447,838 L452,912 M470,835 L480,912"/>
<!-- studs -->
<path class="w" d="M108.7,492.9 L58.4,268.8 A8.3,26.0 -102.6 0 1 109.2,257.4 L159.4,481.6 Q163.4,499.3 138.0,505.0 Q112.6,510.7 108.7,492.9 Z"/><path class="c" d="M160.2,485.1 L109.2,257.4"/><path class="a" d="M110.3,500.2 Q136.4,497.9 163.9,501.5 M108.4,491.9 Q134.6,489.7 162.0,493.2 M106.6,483.6 Q132.7,481.4 160.1,484.9 M104.7,475.3 Q130.8,473.1 158.3,476.6 M102.8,467.0 Q129.0,464.8 156.4,468.3 M101.0,458.7 Q127.1,456.5 154.6,460.0 M99.1,450.4 Q125.3,448.2 152.7,451.7 M97.3,442.1 Q123.4,439.9 150.9,443.5 M95.4,433.8 Q121.6,431.6 149.0,435.2 M93.6,425.5 Q119.7,423.3 147.1,426.9 M91.7,417.2 Q117.8,415.0 145.3,418.6 M73.3,335.2 Q99.5,332.9 126.9,336.5 M71.5,326.9 Q97.6,324.7 125.0,328.2 M69.6,318.6 Q95.7,316.4 123.2,319.9 M67.7,310.3 Q93.9,308.1 121.3,311.6 M65.9,302.0 Q92.0,299.8 119.5,303.3 M64.0,293.7 Q90.2,291.5 117.6,295.0 M62.2,285.4 Q88.3,283.2 115.8,286.7 M60.3,277.1 Q86.5,274.9 113.9,278.5 "/>
<path class="b" d="M120,375 L135,440"/>
<path class="w" d="M193.7,830.5 L162.4,693.4 A8.0,25.0 -102.9 0 1 211.2,682.2 L242.5,819.4 Q246.4,836.4 222.0,842.0 Q197.6,847.6 193.7,830.5 Z"/><path class="c" d="M243.3,822.8 L211.2,682.2"/><path class="th" d="M182.3,780.6 Q207.4,778.3 233.9,781.7 M180.4,772.3 Q205.5,770.0 232.0,773.4 M178.6,764.1 Q203.7,761.7 230.1,765.1 M176.7,755.8 Q201.8,753.4 228.2,756.8 M174.8,747.5 Q199.9,745.1 226.3,748.5 M172.9,739.2 Q198.0,736.8 224.4,740.3 M171.0,730.9 Q196.1,728.5 222.5,732.0 M169.1,722.6 Q194.2,720.3 220.6,723.7 M167.2,714.3 Q192.3,712.0 218.7,715.4 M165.3,706.1 Q190.4,703.7 216.8,707.1 M163.4,697.8 Q188.5,695.4 214.9,698.8 "/><path class="b" d="M233.1,828.7 L222.9,784.2"/>
<path class="w" d="M517.3,689.5 L489.9,559.4 A7.0,22.0 -101.9 0 1 533.0,550.4 L560.4,680.4 Q563.5,695.5 542.0,700.0 Q520.5,704.5 517.3,689.5 Z"/><path class="c" d="M561.0,683.4 L533.0,550.4"/><path class="th" d="M507.3,641.8 Q529.3,639.7 552.6,643.5 M505.5,633.5 Q527.6,631.4 550.8,635.2 M503.8,625.2 Q525.8,623.1 549.1,626.9 M502.0,616.8 Q524.1,614.8 547.3,618.5 M500.3,608.5 Q522.3,606.5 545.6,610.2 M498.5,600.2 Q520.6,598.1 543.8,601.9 M496.8,591.9 Q518.8,589.8 542.1,593.6 M495.0,583.6 Q517.1,581.5 540.3,585.3 M493.3,575.2 Q515.3,573.2 538.6,576.9 M491.5,566.9 Q513.6,564.9 536.8,568.6 "/><path class="b" d="M551.9,688.5 L543.1,646.3"/>
<path class="w" d="M1037.3,601.5 L1009.9,471.4 A7.0,22.0 -101.9 0 1 1053.0,462.4 L1080.4,592.4 Q1083.5,607.5 1062.0,612.0 Q1040.5,616.5 1037.3,601.5 Z"/><path class="c" d="M1081.0,595.4 L1053.0,462.4"/><path class="th" d="M1027.3,553.8 Q1049.3,551.7 1072.6,555.5 M1025.5,545.5 Q1047.6,543.4 1070.8,547.2 M1023.8,537.2 Q1045.8,535.1 1069.1,538.9 M1022.0,528.8 Q1044.1,526.8 1067.3,530.5 M1020.3,520.5 Q1042.3,518.5 1065.6,522.2 M1018.5,512.2 Q1040.6,510.1 1063.8,513.9 M1016.8,503.9 Q1038.8,501.8 1062.1,505.6 M1015.0,495.6 Q1037.1,493.5 1060.3,497.3 M1013.3,487.2 Q1035.3,485.2 1058.6,488.9 M1011.5,478.9 Q1033.6,476.9 1056.8,480.6 "/><path class="b" d="M1071.9,600.5 L1063.1,558.3"/>
<!-- flange wavy at bottom-right -->
<path class="a" d="M1105,890 Q1120,840 1180,825 L1230,830 L1285,805 M1130,880 Q1160,845 1200,850 M1215,905 Q1240,885 1265,905"/>
</g>

<!-- head left end : zoom region [161,380,483,608] f=3.991 -->
<g transform="translate(161,380) scale(0.25058)">
<!-- top far edge and face -->
<path class="a" d="M176,355 L270,315 M205,358 L345,327 L642,272"/>
<path class="d" d="M355,300 L440,283 L642,232"/>
<path class="c" d="M440,295 L642,250 M470,300 L642,262"/>
<path class="a" d="M1090,222 L1110,300 M1098,300 L1115,345 M1200,310 L1190,345 M1140,330 L1185,320 M1010,290 Q1030,320 1000,390"/>
<!-- end-face outline -->
<path class="c" d="M180,355 L186,395 Q180,420 150,432 Q125,445 130,485 Q140,520 185,535 L330,512 Q365,525 375,560 Q385,590 425,605"/>
<circle class="a" cx="160" cy="482" r="12"/><path class="b" d="M155,474 Q168,482 160,492"/>
<circle class="a" cx="398" cy="545" r="12"/><path class="b" d="M393,537 Q406,545 398,555"/>
<circle class="a" cx="678" cy="618" r="13"/><path class="b" d="M673,610 Q686,618 678,628"/>
<circle class="a" cx="858" cy="328" r="13"/><path class="b" d="M853,320 Q866,328 858,338"/>
<!-- shadow under ear -->
<path class="f" d="M262,522 L335,510 Q365,525 376,558 L340,582 L300,548 Q290,535 262,522Z"/>
<path class="d" d="M300,548 L400,912 M470,700 L528,912"/><path class="c" d="M325,572 L345,580 L350,600"/>
<path class="b" d="M335,585 L390,575 M335,585 L340,620"/>
<!-- U notches -->
<path class="b" d="M343,325 L365,407"/><path class="a" d="M400,312 L433,402 Q432,440 405,455 Q385,450 375,435"/>
<path class="b" d="M533,300 L550,372"/><path class="a" d="M590,282 L620,362 Q622,405 590,417 Q570,410 555,390"/>
<!-- bore -->
<ellipse class="w" cx="537" cy="587" rx="103" ry="152" transform="rotate(-8 537 587)" style="stroke-width:2.6"/>
<path class="f" d="M452,462 Q480,425 535,427 Q590,450 625,520 L600,500 Q570,460 535,455 Q500,455 462,490Z"/>
<ellipse class="a" cx="565" cy="580" rx="72" ry="128" transform="rotate(-8 565 580)"/>
<path class="a" d="M500,470 Q475,560 510,650 Q540,700 590,705"/>
<path class="b" d="M520,500 L590,485 M525,520 L600,505 M450,500 L480,495 M455,520 L485,512"/>
<path class="c" d="M455,640 Q490,720 560,735 Q610,735 635,690"/>
<path class="b" d="M530,600 Q545,660 590,690"/>
<path class="l2" d="M-10,742 L75,718 M100,710 L125,703 M150,696 L330,645 M355,638 L380,631 M405,624 L610,565"/>
<!-- slot mark -->
<path class="f" d="M735,365 L790,328 L798,340 L745,380Z"/>
<!-- cam bracket right -->
<path class="a" d="M850,262 L868,295 Q890,340 880,370 L815,420 M868,262 L1000,230 L1010,290 L985,335"/>
<path class="f" d="M700,520 L790,445 L830,415 L990,328 L1006,345 L872,432 L856,474 L740,537Z"/>
<path class="wf" d="M830,440 L960,360 L965,372 L850,445Z"/>
<path class="a" d="M700,520 Q680,540 690,570 L720,575 L760,555 Q800,560 800,600 L790,625 L725,640 L715,600"/>
<path class="a" d="M850,475 Q840,500 860,500 L985,425 Q1000,400 985,395 M960,440 L975,520"/>
<path class="f" d="M640,725 L700,688 L745,653 L777,660 L722,702 L682,737Z"/>
<path class="f" d="M935,570 L1000,528 L1090,468 L1122,492 L1010,557 L950,592Z"/>
<path class="a" d="M1040,400 Q1080,390 1100,415 M1120,330 L1125,470 Q1110,500 1120,495 Q1150,470 1200,480 L1230,500 M1100,560 Q1125,545 1135,520"/>
<path class="d" d="M940,580 L740,745"/>
<path class="a" d="M930,600 L1020,625 L1035,910 M935,600 L990,575 L1080,580"/>
<!-- window in side -->
<path class="a" d="M1070,640 L1165,605 Q1185,605 1188,625 L1195,830 L1090,868 Q1080,760 1070,640Z"/>
<path class="f" d="M1078,650 L1108,640 L1118,800 L1100,850 L1090,860 Z"/>
<path class="c" d="M1140,620 L1150,790 L1108,805"/>
<path class="a" d="M1225,460 Q1230,420 1285,380 M1150,520 Q1150,560 1180,575 L1285,560 M1285,700 Q1255,740 1285,780 M1220,860 Q1240,820 1285,815"/>
<!-- second bore lower -->
<path class="a" d="M611,854 L626,912 M611,854 L630,845 L632,820"/>
<path class="f" d="M630,775 L665,765 L668,778 L635,790Z M640,748 L668,740 L670,750 L645,758Z"/>
<path class="b" d="M810,820 L832,912"/>
<!-- studs -->
<path class="w" d="M267.5,310.2 L238.6,186.0 A8.3,26.0 -103.1 0 1 289.2,174.2 L318.2,298.4 Q322.3,316.1 297.0,322.0 Q271.7,327.9 267.5,310.2 Z"/><path class="c" d="M319.0,301.9 L289.2,174.2"/><path class="th" d="M257.0,264.9 Q283.1,262.5 310.6,265.8 M255.1,256.7 Q281.2,254.2 308.6,257.5 M253.1,248.4 Q279.2,245.9 306.7,249.2 M251.2,240.1 Q277.3,237.6 304.8,241.0 M249.3,231.8 Q275.4,229.4 302.9,232.7 M247.3,223.6 Q273.5,221.1 300.9,224.4 M245.4,215.3 Q271.5,212.8 299.0,216.1 M243.5,207.0 Q269.6,204.5 297.1,207.8 M241.5,198.7 Q267.7,196.2 295.1,199.6 M239.6,190.4 Q265.7,188.0 293.2,191.3 "/><path class="b" d="M308.4,308.1 L299.1,268.2"/>
</g>

<!-- zoom region [322,456,644,684] f=3.991 -->
<g transform="translate(322,456) scale(0.25058)">
<!-- remaining of lower bore + bottom-left edges -->
<path class="c" d="M0,757 L210,725 L230,706 L400,680 L470,655"/>
<path class="b" d="M165,515 L210,705"/>
<path class="a" d="M375,320 L400,672"/>
<path class="l" d="M368,710 V900"/>
<!-- flange outline 1 -->
<path class="a" d="M560,180 L590,200 L610,185 M575,165 Q585,105 625,75 Q660,60 700,75 L740,70 L840,18 L870,15 L905,40"/>
<path class="a" d="M600,170 Q612,118 648,92 L700,92 L760,80 L862,30"/>
<path class="a" d="M905,130 L860,390 M580,555 Q590,520 635,508 L780,478"/>
<path class="b" d="M920,60 L908,125"/>
<!-- port 1 -->
<path class="c" d="M640,270 Q640,340 700,388 Q730,400 760,395"/>
<path class="b" d="M800,255 Q815,300 795,360 Q780,385 760,395"/>
<path class="a" d="M665,195 L670,150 Q690,125 715,165"/>
<!-- bottom edge of head -->
<path class="c" d="M780,530 L1290,363"/>
<!-- flange 2 left edge -->
<path class="a" d="M1100,-5 L1058,300 Q1060,345 1105,365 L1290,305 M1135,-5 L1095,290"/>
<path class="d" d="M1290,38 Q1200,55 1182,120 Q1185,190 1240,220 L1290,225"/>
<!-- studs -->
<path class="l" d="M815,570 L940,553 M960,550 L985,547 M1003,545 L1135,531"/>
<path class="l2" d="M740,832 H842"/>
<path class="w" d="M882.4,53.0 L1073.3,31.9 A15.7,28.0 -6.3 0 1 1079.5,87.6 L888.6,108.7 Q869.1,110.8 866.0,83.0 Q862.9,55.2 882.4,53.0 Z"/><path class="b" d="M1073.3,31.9 A15.7,28.0 -6.3 0 0 1079.5,87.6"/><path class="c" d="M884.7,109.1 L1079.5,87.6"/><path class="th" d="M980.8,42.1 Q978.7,70.5 967.5,99.9 M993.7,40.7 Q991.6,69.1 980.4,98.5 M1006.7,39.3 Q1004.5,67.7 993.3,97.1 M1019.6,37.8 Q1017.4,66.2 1006.3,95.7 M1032.5,36.4 Q1030.4,64.8 1019.2,94.2 M1045.4,35.0 Q1043.3,63.4 1032.1,92.8 M1058.3,33.6 Q1056.2,62.0 1045.0,91.4 "/><path class="b" d="M879.4,97.0 L967.4,87.3"/>
<path class="w" d="M529.3,215.7 L872.8,175.2 A16.8,30.0 -6.7 0 1 879.8,234.8 L536.4,275.3 Q515.5,277.8 512.0,248.0 Q508.5,218.2 529.3,215.7 Z"/><path class="b" d="M872.8,175.2 A16.8,30.0 -6.7 0 0 879.8,234.8"/><path class="c" d="M532.2,275.8 L879.8,234.8"/><path class="th" d="M761.6,188.3 Q759.2,218.8 747.8,250.4 M774.5,186.8 Q772.1,217.3 760.7,248.8 M787.4,185.3 Q785.0,215.8 773.6,247.3 M800.3,183.7 Q797.9,214.2 786.5,245.8 M813.2,182.2 Q810.8,212.7 799.4,244.3 M826.1,180.7 Q823.7,211.2 812.3,242.7 M839.0,179.2 Q836.7,209.7 825.2,241.2 M852.0,177.6 Q849.6,208.1 838.1,239.7 M864.9,176.1 Q862.5,206.6 851.0,238.2 "/><path class="b" d="M526.4,262.9 L748.2,236.7"/>
<path class="w" d="M642.1,424.1 L842.5,400.8 A14.6,26.0 -6.6 0 1 848.5,452.5 L648.1,475.7 Q630.0,477.8 627.0,452.0 Q624.0,426.2 642.1,424.1 Z"/><path class="b" d="M842.5,400.8 A14.6,26.0 -6.6 0 0 848.5,452.5"/><path class="c" d="M644.5,476.2 L848.5,452.5"/><path class="th" d="M744.4,412.2 Q742.8,438.6 732.3,466.0 M757.3,410.7 Q755.7,437.1 745.2,464.5 M770.2,409.2 Q768.7,435.6 758.1,463.0 M783.1,407.7 Q781.6,434.1 771.0,461.5 M796.0,406.2 Q794.5,432.6 783.9,460.0 M808.9,404.7 Q807.4,431.1 796.8,458.5 M821.8,403.2 Q820.3,429.6 809.7,457.0 M834.7,401.8 Q833.2,428.1 822.7,455.5 "/><path class="b" d="M639.5,464.9 L731.5,454.3"/>
<path class="w" d="M456.3,587.0 L789.2,549.0 A15.7,28.0 -6.5 0 1 795.6,604.6 L462.6,642.6 Q443.2,644.8 440.0,617.0 Q436.8,589.2 456.3,587.0 Z"/><path class="b" d="M789.2,549.0 A15.7,28.0 -6.5 0 0 795.6,604.6"/><path class="c" d="M458.8,643.0 L795.6,604.6"/><path class="th" d="M681.2,561.3 Q679.1,589.7 668.1,619.2 M694.1,559.8 Q692.1,588.2 681.0,617.7 M707.0,558.3 Q705.0,586.8 693.9,616.2 M719.9,556.9 Q717.9,585.3 706.8,614.7 M732.8,555.4 Q730.8,583.8 719.7,613.3 M745.8,553.9 Q743.7,582.3 732.6,611.8 M758.7,552.4 Q756.6,580.9 745.6,610.3 M771.6,551.0 Q769.6,579.4 758.5,608.8 M784.5,549.5 Q782.5,577.9 771.4,607.4 "/><path class="b" d="M453.4,631.0 L667.9,606.5"/>
<path class="w" d="M1133.7,256.7 L1315.7,232.3 A15.7,28.0 -7.6 0 1 1323.2,287.8 L1141.1,312.2 Q1121.7,314.8 1118.0,287.0 Q1114.3,259.2 1133.7,256.7 Z"/><path class="b" d="M1315.7,232.3 A15.7,28.0 -7.6 0 0 1323.2,287.8"/><path class="c" d="M1137.3,312.7 L1323.2,287.8"/><path class="th" d="M1221.6,244.9 Q1220.1,273.4 1209.6,303.0 M1234.5,243.2 Q1233.0,271.6 1222.5,301.3 M1247.4,241.5 Q1245.9,269.9 1235.3,299.6 M1260.2,239.7 Q1258.7,268.2 1248.2,297.8 M1273.1,238.0 Q1271.6,266.5 1261.1,296.1 M1286.0,236.3 Q1284.5,264.7 1274.0,294.4 M1298.9,234.6 Q1297.4,263.0 1286.9,292.7 M1311.8,232.9 Q1310.3,261.3 1299.8,291.0 "/><path class="b" d="M1131.7,300.7 L1209.2,290.3"/>
<path class="w" d="M1157.9,500.8 L1280.9,485.2 A15.7,28.0 -7.2 0 1 1288.0,540.7 L1165.0,556.3 Q1145.5,558.8 1142.0,531.0 Q1138.5,503.2 1157.9,500.8 Z"/><path class="b" d="M1280.9,485.2 A15.7,28.0 -7.2 0 0 1288.0,540.7"/><path class="c" d="M1161.1,556.8 L1288.0,540.7"/><path class="th" d="M1159.4,500.6 Q1157.7,529.0 1147.0,558.6 M1172.3,498.9 Q1170.6,527.4 1159.9,557.0 M1185.2,497.3 Q1183.5,525.7 1172.8,555.3 M1198.1,495.7 Q1196.4,524.1 1185.7,553.7 M1211.0,494.0 Q1209.3,522.5 1198.6,552.1 M1223.9,492.4 Q1222.2,520.8 1211.5,550.4 M1236.8,490.8 Q1235.1,519.2 1224.4,548.8 M1249.7,489.1 Q1248.0,517.6 1237.3,547.2 "/>
</g>

<!-- zoom region [644,456,966,684] f=3.991 -->
<g transform="translate(644,456) scale(0.25058)">
<!-- head bottom edge -->
<path class="c" d="M-5,367 L150,320 L338,262 L330,197 L345,187 L412,162"/>
<path class="c" d="M342,248 L1068,-2"/>
<path class="a" d="M540,118 L905,-2"/>
<!-- flange plate left -->
<path class="a" d="M130,-5 L125,60 L170,245 M245,-5 L240,80 L270,112"/>
<path class="a" d="M155,140 L235,125 L265,197 L185,213Z M175,145 L200,205 M215,135 L240,190"/>
<path class="c" d="M380,-5 Q395,45 440,58 Q480,55 500,28"/>
<path class="a" d="M540,80 L577,-5 M610,-5 Q630,25 680,20 L700,40 L740,30"/>

<path class="b" d="M0,195 Q30,170 40,100 Q40,40 10,0"/>
<!-- dash-dot to stud 6 -->
<path class="l" d="M1165,-5 L1187,80 M1191,95 L1194,106 M1198,120 L1215,176 L1150,186"/>
<path class="b" d="M960,232 L1010,224"/>
<path class="l" d="M990,252 L992,322"/>
<!-- ring 2 -->
<path class="l" d="M415,232 L508,327"/>
<path class="w" style="stroke-width:2.3" d="M455,440 Q455,380 510,325 Q570,280 632,278 L678,322 Q685,370 650,415 Q590,480 515,498 L468,470Z"/>
<ellipse class="a" cx="583" cy="392" rx="100" ry="52" transform="rotate(-33 583 392)" style="stroke-width:2.3"/>
<path class="a" d="M500,470 Q500,420 560,370 Q610,335 660,325"/>
<path class="l" d="M555,375 L642,466"/>
<path class="l2" d="M672,378 H780"/>
<path class="l" d="M45,552 V635"/>
<path class="w" d="M327.1,104.3 L510.2,75.8 A15.7,28.0 -8.9 0 1 518.8,131.1 L335.7,159.6 Q316.3,162.7 312.0,135.0 Q307.7,107.3 327.1,104.3 Z"/><path class="b" d="M510.2,75.8 A15.7,28.0 -8.9 0 0 518.8,131.1"/><path class="c" d="M331.8,160.2 L518.8,131.1"/><path class="th" d="M411.0,91.2 Q410.1,119.7 400.3,149.6 M423.8,89.2 Q423.0,117.7 413.1,147.6 M436.7,87.2 Q435.8,115.7 425.9,145.6 M449.5,85.2 Q448.7,113.7 438.8,143.6 M462.4,83.2 Q461.5,111.7 451.6,141.6 M475.2,81.2 Q474.3,109.7 464.5,139.6 M488.1,79.2 Q487.2,107.7 477.3,137.6 M500.9,77.2 Q500.0,105.7 490.2,135.6 "/><path class="b" d="M326.0,148.4 L399.6,136.9"/>
<path class="w" d="M875.6,200.7 L1125.5,163.3 A14.0,25.0 -8.5 0 1 1132.8,212.8 L883.0,250.1 Q865.7,252.7 862.0,228.0 Q858.3,203.3 875.6,200.7 Z"/><path class="b" d="M1125.5,163.3 A14.0,25.0 -8.5 0 0 1132.8,212.8"/><path class="c" d="M879.5,250.7 L1132.8,212.8"/><path class="th" d="M881.3,199.8 Q880.5,225.2 871.4,251.9 M893.2,198.1 Q892.4,223.5 883.3,250.1 M905.1,196.3 Q904.3,221.7 895.1,248.3 M916.9,194.5 Q916.1,219.9 907.0,246.6 M928.8,192.7 Q928.0,218.1 918.9,244.8 M940.7,191.0 Q939.9,216.4 930.7,243.0 M1047.1,175.1 Q1046.3,200.5 1037.2,227.1 M1059.0,173.3 Q1058.2,198.7 1049.1,225.3 M1070.8,171.5 Q1070.0,196.9 1060.9,223.5 M1082.7,169.7 Q1081.9,195.1 1072.8,221.8 M1094.6,168.0 Q1093.8,193.4 1084.7,220.0 M1106.5,166.2 Q1105.6,191.6 1096.5,218.2 M1118.3,164.4 Q1117.5,189.8 1108.4,216.4 "/>
</g>

<!-- zoom region [966,456,1288,684] f=3.991 -->
<g transform="translate(966,456) scale(0.25058)">
<path class="l" d="M447,-5 V50"/>
<path class="l" d="M200,-5 L222,80 M226,93 L229,104 M232,115 L235,126 L305,116"/>
<path class="w" d="M326.9,81.6 L581.2,45.4 A15.1,27.0 -8.1 0 1 588.8,98.9 L334.5,135.1 Q315.8,137.7 312.0,111.0 Q308.2,84.3 326.9,81.6 Z"/><path class="b" d="M581.2,45.4 A15.1,27.0 -8.1 0 0 588.8,98.9"/><path class="c" d="M330.8,135.6 L588.8,98.9"/><path class="th" d="M332.1,80.9 Q330.7,108.3 321.0,137.0 M344.0,79.2 Q342.6,106.6 332.9,135.3 M355.9,77.5 Q354.5,104.9 344.8,133.6 M367.8,75.8 Q366.4,103.3 356.7,131.9 M379.7,74.1 Q378.3,101.6 368.6,130.2 M391.5,72.4 Q390.1,99.9 380.4,128.5 M496.3,57.5 Q494.9,85.0 485.2,113.6 M508.2,55.8 Q506.8,83.3 497.1,111.9 M520.1,54.1 Q518.7,81.6 509.0,110.2 M531.9,52.4 Q530.5,79.9 520.8,108.5 M543.8,50.7 Q542.4,78.2 532.7,106.9 M555.7,49.0 Q554.3,76.5 544.6,105.2 M567.6,47.3 Q566.2,74.8 556.5,103.5 "/>
<path class="b" d="M400,103 L470,93"/>
</g>

<!-- head bottom-left foot: zoom region [200,540,522,768] f=3.991 -->
<g transform="translate(200,540) scale(0.25058)">
<path class="b" d="M243,271 L270,392"/>
<path class="c" d="M378,271 L385,300 L355,325 Q315,345 310,375 Q315,400 345,402 L470,393"/>
<path class="w" style="stroke-width:2.4" d="M215,406 L300,396 L330,406 L482,392 L492,420 L225,456Z"/>
<path class="c" d="M232,440 L488,408"/>
<path class="b" d="M250,408 L300,402 M255,415 L295,410"/>
<path class="c" d="M470,273 L502,418 L690,386 L720,372"/>
<path class="a" d="M395,327 L470,322"/>
<path class="b" d="M655,180 L698,375"/>
<path class="d" d="M488,135 Q520,100 565,100 Q610,125 622,200 Q620,262 585,290 Q565,300 548,297"/>
<path class="a" d="M530,160 Q512,215 540,268 Q560,290 580,290 M562,140 Q600,190 596,258"/>
<path class="l" d="M470,238 L605,196"/>
</g>

<!-- center fix: zoom region [483,380,805,608] f=3.991 -->
<g transform="translate(483,380) scale(0.25058)">
<path class="wf" d="M525,282 L705,282 L705,470 L640,533 L525,533Z"/>
<path class="a" d="M570,330 L563,300 Q585,270 612,322"/>
<path class="d" d="M600,328 Q545,350 538,430 Q545,500 610,528 L640,528"/>
<path class="b" d="M572,378 L640,356 M612,322 Q680,340 692,410 Q690,480 655,520 L640,528"/>
<path class="a" d="M708,556 L745,490 L765,490 L790,602 M748,500 L762,585"/>
</g>

<!-- zoom region [0,456,322,684] f=3.991 : parts 14,13,12,11,8 -->
<g transform="translate(0,456) scale(0.25058)">
<path class="l" d="M240,-100 V175 M735,-100 V255 M207,700 V905 M508,650 V905 M797,820 V905"/>
<!-- bolt 14 -->
<path class="w" d="M208,208 L312,176 Q328,180 324,200 Q322,215 312,218 L218,250Z"/>
<path class="c" d="M232,202 Q244,222 238,244 M250,196 Q262,216 256,238 M268,190 Q280,210 274,232 M286,185 Q298,205 292,226 M303,180 Q315,200 309,220"/>
<path class="w" style="stroke-width:2.2" d="M130,215 Q128,195 160,188 L195,193 L212,228 L202,262 L165,276 L142,268 Q128,245 130,215Z"/>
<ellipse class="a" cx="151" cy="233" rx="21" ry="39" transform="rotate(-14 151 233)"/><path class="a" d="M180,190 L197,228 L188,266"/>
<path class="l" d="M335,182 L522,130 V548 L628,522"/>
<!-- o-ring 13 -->
<ellipse class="w" cx="800" cy="392" rx="92" ry="136" transform="rotate(-10 800 392)" style="stroke-width:2.2"/>
<ellipse class="w" cx="803" cy="392" rx="78" ry="122" transform="rotate(-10 803 392)"/>
<!-- seal 12 -->
<path class="w" style="stroke-width:2.4" d="M225,416 Q300,425 335,520 Q350,610 310,680 Q280,705 235,700 Q150,690 120,560 Q110,440 225,416Z"/>
<path class="a" d="M245,425 Q305,450 322,540 Q330,620 295,680 M262,440 Q305,470 312,550 Q316,620 285,672 M232,690 Q270,700 300,672" />
<path class="b" d="M278,458 Q300,490 302,560 Q302,620 280,660"/>
<ellipse class="w" cx="205" cy="548" rx="86" ry="132" transform="rotate(-8 205 548)" style="stroke-width:2.3"/>
<ellipse class="w" cx="226" cy="560" rx="60" ry="105" transform="rotate(-8 226 560)" style="stroke-width:2.2"/>
<path class="d" d="M178,520 Q185,470 225,458"/>
<path class="c" d="M215,660 Q245,672 268,640"/>
<path class="b" style="stroke-dasharray:3 2" d="M160,520 Q150,600 190,650"/>
<path class="wf" d="M100,615 L160,700 L200,708 L222,690 L170,665 L130,600Z"/>
<path class="a" d="M133,612 Q150,650 172,668 M232,700 Q260,700 290,680"/>
<!-- flange 11 -->
<path class="w" d="M330,420 L500,318 Q540,315 600,350 Q630,390 640,440 L700,520 Q700,545 680,555 L545,640 Q510,650 470,630 Q410,590 380,535 L330,470Z"/>
<path class="w" style="stroke-width:2.2" d="M318,425 Q312,410 330,400 L470,322 Q500,312 520,325 Q560,340 600,420 Q620,450 660,480 Q695,510 685,535 L540,628 Q500,645 465,620 Q400,570 370,520 L322,450Z"/>
<ellipse class="a" cx="490" cy="482" rx="92" ry="138" transform="rotate(-12 490 482)" style="stroke-width:2.2"/>
<ellipse class="a" cx="500" cy="482" rx="82" ry="128" transform="rotate(-12 500 482)"/>
<ellipse class="b" cx="512" cy="482" rx="72" ry="118" transform="rotate(-12 512 482)"/>
<ellipse class="w" cx="522" cy="484" rx="60" ry="108" transform="rotate(-12 522 484)"/>
<path class="b" d="M470,580 Q500,610 540,600 M460,560 Q490,600 535,610"/>
<ellipse class="w" cx="346" cy="440" rx="12" ry="17"/>
<ellipse class="w" cx="633" cy="520" rx="10" ry="20" style="stroke-width:2.2"/>
<path class="a" d="M655,490 Q665,480 672,492 M660,505 L670,500"/>
<path class="l" d="M522,300 V548 L628,522"/>
<!-- axis -->
<path class="l2" d="M80,603 L740,410 M760,404 L790,396 M812,389 L872,372 M895,365 L960,346 M985,338 L1010,330 M1035,323 L1250,262"/>
<path class="l" d="M655,503 L672,499 M690,496 L730,487"/>
<!-- sleeve 8 -->
<path class="w" style="stroke-width:2.2" d="M790,597 Q840,585 880,600 Q935,640 936,715 Q930,775 885,792 L805,818 Q750,800 728,730 Q715,650 745,618 Q765,600 790,597Z"/>
<path class="a" d="M790,597 Q840,620 865,690 Q880,760 860,800"/>
<ellipse class="a" cx="805" cy="708" rx="58" ry="100" transform="rotate(-12 805 708)"/>
<path class="b" d="M790,625 Q830,680 835,770 M800,800 L830,792"/>
<path class="l" d="M955,666 L1290,578"/>
</g>

<!-- ring 3: zoom region [290,640,612,868] f=3.991 -->
<g transform="translate(290,640) scale(0.25058)">
<path class="w" style="stroke-width:2.4" d="M640,90 Q610,130 618,160 Q640,215 740,245 Q810,245 850,190 Q870,130 866,95 Q840,20 745,8 Q670,15 640,90Z"/>
<ellipse class="w" cx="754" cy="98" rx="108" ry="86" transform="rotate(10 754 98)" style="stroke-width:2.4"/>
<ellipse class="a" cx="752" cy="100" rx="94" ry="70" transform="rotate(10 752 100)" style="stroke-width:2.2"/>
<path class="a" d="M665,80 Q730,50 800,95 Q830,125 830,165"/>
<path class="l" d="M843,-99 L728,150"/>
<path class="l" d="M260,315 V570"/>
</g>
<path class="w" d="M613.0,582.0 L722.8,569.0 A3.9,7.0 -6.7 0 1 724.4,582.9 L614.7,595.9 Q609.8,596.5 609.0,589.5 Q608.2,582.5 613.0,582.0 Z"/><path class="b" d="M722.8,569.0 A3.9,7.0 -6.7 0 0 724.4,582.9"/><path class="c" d="M613.7,596.0 L724.4,582.9"/><path class="th" d="M615.8,581.7 Q615.3,588.8 612.5,596.1 M618.9,581.3 Q618.4,588.4 615.7,595.8 M622.1,580.9 Q621.6,588.0 618.9,595.4 M625.3,580.5 Q624.8,587.6 622.1,595.0 M628.5,580.2 Q628.0,587.3 625.2,594.6 M631.6,579.8 Q631.1,586.9 628.4,594.3 M634.8,579.4 Q634.3,586.5 631.6,593.9 M638.0,579.0 Q637.5,586.1 634.8,593.5 M641.2,578.6 Q640.7,585.8 638.0,593.1 M692.8,572.6 Q692.3,579.7 689.6,587.0 M696.0,572.2 Q695.5,579.3 692.7,586.7 M699.1,571.8 Q698.6,578.9 695.9,586.3 M702.3,571.4 Q701.8,578.5 699.1,585.9 M705.5,571.1 Q705.0,578.2 702.3,585.5 M708.7,570.7 Q708.2,577.8 705.4,585.2 M711.8,570.3 Q711.3,577.4 708.6,584.8 M715.0,569.9 Q714.5,577.0 711.8,584.4 M718.2,569.5 Q717.7,576.7 715.0,584.0 M721.4,569.2 Q720.9,576.3 718.2,583.7 "/>
<path class="b" d="M645,589.5 L700,583"/>

<!-- bolt 20 head: zoom region [500,100,661,214] f=7.98 -->
<g transform="translate(500,100) scale(0.12531)">
<!-- shaft (extends below the region) -->
<path class="wf" d="M560,450 L790,1335 L875,1330 L640,430Z"/>
<path class="a" d="M560,450 L790,1340"/>
<path class="d" d="M643,432 L872,1330"/>
<path class="b" d="M620,480 L835,1330"/>
<!-- neck -->
<path class="w" d="M500,285 L535,430 L560,447 L640,432 L652,400 L625,262Z"/>
<path class="b" d="M545,440 L635,420 M595,300 L625,410 M610,300 L640,400 M505,345 L530,340 M595,350 L655,345"/>
<!-- head -->
<path class="w" style="stroke-width:2.6" d="M420,208 Q425,175 450,165 L550,135 L632,130 Q665,140 668,175 L668,215 L622,255 L500,282 L432,272Z"/>
<path class="f" d="M612,160 L655,140 L668,175 L668,215 L622,255 L608,215Z"/>
<path class="a" d="M432,205 L452,168 L622,138 L612,160 L482,207 L432,205 M482,207 L495,280 M482,207 L612,160"/>
</g>
<path class="l" d="M506.3,227.2 H585"/>

</svg>
</body></html>
